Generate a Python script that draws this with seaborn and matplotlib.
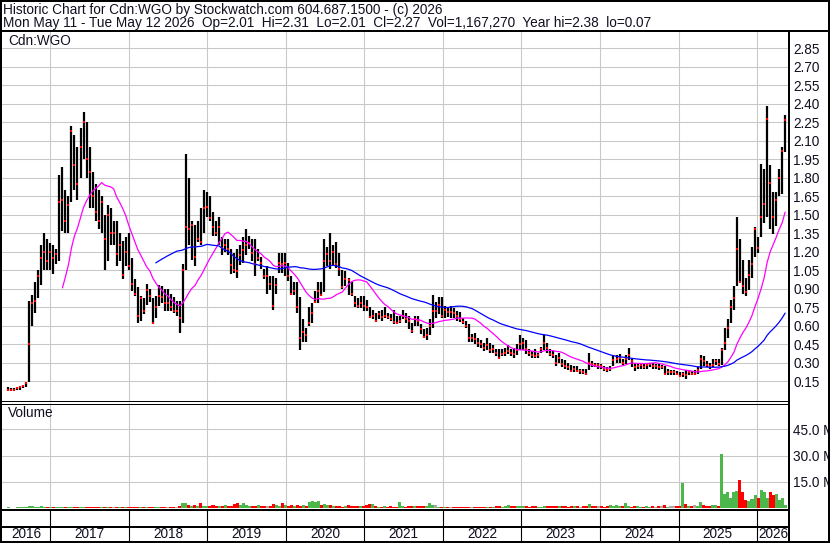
import numpy as np
import pandas as pd
import matplotlib
matplotlib.use("Agg")
import matplotlib.pyplot as plt
from matplotlib.lines import Line2D
import seaborn as sns

# ---------------- data (bi-weekly bars) ----------------
high = [
    .10, .09, .09, .10, .11, .12, .14, .80, .85, .95,
    1.05, 1.25, 1.35, 1.30, 1.27, 1.25, 1.22, 1.82, 1.89, 1.70,
    1.65, 2.22, 2.15, 2.05, 2.20, 2.33, 2.25, 2.05, 1.85, 1.75,
    1.70, 1.65, 1.50, 1.58, 1.55, 1.45, 1.45, 1.35, 1.29, 1.32,
    1.35, 1.15, .98, .91, .84, .82, .94, .90, .82, .84,
    .93, .92, .90, .90, .86, .83, .80, .80, 1.10, 1.99,
    1.80, 1.45, 1.42, 1.45, 1.55, 1.70, 1.68, 1.65, 1.52, 1.45,
    1.48, 1.32, 1.30, 1.30, 1.22, 1.19, 1.22, 1.25, 1.32, 1.38,
    1.33, 1.30, 1.30, 1.22, 1.16, 1.06, 1.08, 1.00, 1.00, .99,
    1.19, 1.19, 1.19, 1.11, 1.00, .95, .95, .83, .65, .58,
    .75, .78, .88, .95, .95, 1.30, 1.24, 1.35, 1.25, 1.28,
    1.19, 1.05, 1.04, .99, .95, .84, .82, .84, .84, .81,
    .75, .73, .70, .72, .73, .75, .70, .69, .73, .68,
    .68, .73, .70, .68, .62, .68, .68, .61, .57, .58,
    .65, .85, .79, .83, .83, .76, .75, .76, .74, .72,
    .71, .66, .64, .61, .53, .54, .50, .48, .46, .50,
    .46, .44, .41, .41, .41, .42, .44, .41, .42, .45,
    .52, .50, .48, .41, .39, .41, .38, .43, .52, .46,
    .41, .39, .36, .38, .33, .32, .30, .28, .27, .27,
    .25, .25, .25, .38, .31, .30, .30, .29, .27, .26,
    .27, .35, .36, .37, .33, .36, .42, .33, .30, .30,
    .30, .29, .30, .30, .30, .29, .29, .28, .27, .25,
    .24, .24, .23, .22, .22, .24, .24, .23, .24, .26,
    .36, .35, .31, .30, .33, .33, .33, .42, .58, .65,
    .81, .92, 1.48, 1.30, 1.13, .99, 1.13, 1.24, 1.40, 1.32,
    1.91, 1.87, 2.38, 1.90, 1.68, 1.68, 1.87, 2.05, 2.31,
]
low = [
    .07, .07, .07, .08, .08, .09, .10, .14, .60, .70,
    .82, .93, 1.05, 1.05, 1.05, 1.02, 1.10, 1.12, 1.37, 1.35,
    1.35, 1.60, 1.70, 1.62, 1.80, 1.95, 1.80, 1.55, 1.55, 1.45,
    1.38, 1.35, 1.05, 1.12, 1.25, 1.25, 1.08, 1.12, .98, 1.08,
    1.05, .88, .84, .62, .64, .69, .77, .79, .61, .66,
    .76, .78, .72, .72, .72, .70, .68, .54, .62, 1.05,
    1.25, 1.13, 1.08, 1.28, 1.25, 1.35, 1.48, 1.45, 1.33, 1.33,
    1.25, 1.17, 1.20, 1.17, 1.02, 1.03, .99, 1.09, 1.11, 1.17,
    1.22, 1.12, 1.00, 1.12, 1.06, .98, .86, .89, .73, .86,
    1.03, 1.03, 1.00, .96, .85, .85, .70, .40, .47, .47,
    .60, .62, .78, .78, .84, .87, 1.08, 1.06, 1.08, 1.07,
    1.00, .90, .92, .85, .84, .75, .74, .74, .72, .72,
    .66, .65, .63, .65, .64, .66, .65, .64, .61, .61,
    .62, .65, .62, .57, .54, .60, .60, .53, .50, .48,
    .52, .58, .66, .69, .66, .66, .67, .66, .66, .64,
    .63, .61, .58, .47, .47, .45, .43, .42, .39, .40,
    .38, .38, .35, .33, .35, .35, .37, .35, .34, .36,
    .40, .40, .37, .35, .34, .34, .34, .38, .40, .38,
    .35, .34, .27, .30, .26, .25, .24, .22, .22, .22,
    .21, .21, .20, .24, .26, .26, .25, .25, .23, .22,
    .23, .27, .30, .30, .28, .29, .32, .26, .23, .25,
    .25, .25, .25, .26, .25, .25, .24, .25, .21, .20,
    .20, .20, .20, .19, .18, .17, .20, .20, .20, .21,
    .25, .27, .26, .25, .26, .28, .27, .28, .40, .50,
    .62, .73, .92, .95, .86, .84, .89, .99, 1.16, 1.19,
    1.32, 1.43, 1.48, 1.38, 1.34, 1.41, 1.65, 1.67, 2.01,
]
close = [
    .08, .08, .08, .09, .10, .11, .13, .45, .78, .80,
    1.00, 1.15, 1.20, 1.12, 1.20, 1.15, 1.18, 1.60, 1.62, 1.45,
    1.58, 2.18, 1.90, 1.75, 2.05, 2.25, 1.95, 1.85, 1.65, 1.52,
    1.45, 1.60, 1.30, 1.50, 1.35, 1.35, 1.18, 1.25, 1.01, 1.20,
    1.08, .94, .86, .68, .82, .72, .89, .84, .62, .75,
    .84, .83, .78, .78, .75, .72, .72, .66, 1.05, 1.40,
    1.38, 1.42, 1.16, 1.30, 1.28, 1.55, 1.56, 1.47, 1.40, 1.35,
    1.40, 1.23, 1.25, 1.22, 1.09, 1.05, 1.04, 1.17, 1.21, 1.25,
    1.27, 1.19, 1.10, 1.15, 1.11, 1.00, 1.00, .94, .76, .93,
    1.11, 1.10, 1.11, 1.00, .86, .88, .75, .50, .55, .52,
    .62, .70, .79, .88, .85, 1.12, 1.18, 1.12, 1.20, 1.10,
    1.06, .91, .98, .97, .86, .78, .76, .78, .76, .75,
    .67, .68, .64, .69, .67, .68, .67, .65, .63, .62,
    .64, .68, .65, .64, .56, .65, .64, .57, .51, .52,
    .60, .72, .72, .77, .68, .73, .71, .71, .70, .68,
    .65, .63, .60, .50, .50, .49, .46, .45, .42, .44,
    .40, .41, .38, .34, .37, .38, .39, .38, .37, .40,
    .45, .46, .41, .38, .36, .35, .36, .41, .46, .42,
    .37, .36, .30, .34, .29, .27, .26, .23, .25, .23,
    .23, .22, .21, .30, .29, .28, .28, .27, .25, .24,
    .25, .32, .33, .34, .30, .33, .36, .31, .26, .27,
    .28, .26, .28, .29, .27, .27, .26, .26, .21, .22,
    .22, .22, .21, .19, .21, .20, .22, .21, .21, .24,
    .33, .31, .28, .27, .28, .31, .29, .40, .46, .58,
    .75, .82, 1.22, .95, .92, .87, 1.01, 1.10, 1.38, 1.23,
    1.48, 1.59, 2.28, 1.76, 1.48, 1.62, 1.80, 2.02, 2.27,
]
volume_m = [
    .3, .2, .2, .3, .4, .3, .5, 1.0, .9, .7,
    .8, .9, .7, .6, .5, .6, .5, .7, .8, .6,
    .5, .6, .7, .5, .6, .5, .7, .6, .5, .6,
    .5, .5, .6, .4, .5, .6, .5, .4, .5, .6,
    .5, .5, .6, .5, .7, .5, .4, .5, .6, .5,
    .6, .5, .4, .5, .6, .5, .7, .9, 3.0, 2.6,
    1.8, 1.2, 1.5, 1.0, 2.8, 1.3, 1.0, 1.2, 1.6, 1.0,
    1.4, 1.1, 1.7, 1.0, 1.3, 2.2, 2.6, 1.8, 2.8, 1.5,
    1.1, 1.4, 1.0, 1.5, 1.2, 1.0, 1.3, 1.1, 2.3, 1.6,
    1.2, 2.8, 1.5, 1.0, 1.5, 1.2, 2.0, 1.3, 1.6, 1.4,
    3.5, 4.0, 3.3, 3.8, 2.0, 2.3, 1.5, 1.8, 1.2, 1.0,
    1.4, .8, 1.2, 1.6, 1.0, 1.3, .9, 1.1, 1.4, 2.0,
    2.3, 2.5, 1.2, .8, .6, .9, .7, 1.0, .8, .6,
    3.2, 1.0, .8, 1.2, 1.0, .9, 1.4, 1.0, .9, 1.2,
    2.7, 1.5, 2.0, .7, .5, .6, .5, .7, .6, .5,
    .6, .6, .5, .7, .6, .5, .6, .7, .5, .6,
    .8, .7, .9, 1.0, .8, 1.2, 1.5, 1.0, .9, 1.3,
    1.4, .9, 1.0, .8, .9, 1.1, .7, .8, 1.3, 1.2,
    .9, 1.0, 1.2, .9, 1.1, 1.0, .8, 1.2, .9, 1.0,
    .8, .9, 1.1, 2.3, 1.3, 1.0, .9, 1.2, .8, .9,
    2.0, 1.2, 1.5, 1.0, .9, 2.9, 1.3, .8, 1.0, .9,
    .7, .8, .9, .7, 1.0, .8, .9, 1.4, 1.8, .8,
    1.2, 1.0, .9, 1.3, 14.5, 2.3, 1.2, 1.0, 1.5, 1.3,
    3.4, 1.5, 1.2, 1.3, 1.8, 1.6, 1.4, 31.0, 8.0, 9.0,
    6.0, 9.0, 10.0, 16.0, 9.0, 4.5, 4.0, 5.0, 7.5, 5.5,
    10.5, 9.0, 6.0, 9.0, 7.5, 8.0, 4.5, 5.5, 2.0,
]
years = [str(y) for y in range(2016, 2027)]
price_ticks = [round(0.15 * k, 2) for k in range(1, 20)]
volume_ticks = [15.0, 30.0, 45.0]
fast_period, slow_period = 15, 50
fast_first_bar = 18          # the chart begins its fast average here
header_1 = "Historic Chart for Cdn:WGO by Stockwatch.com 604.687.1500 - (c) 2026"
header_2 = ("Mon May 11 - Tue May 12 2026  Op=2.01  Hi=2.31  Lo=2.01  Cl=2.27  "
            "Vol=1,167,270  Year hi=2.38  lo=0.07")

# ---------------- frame ----------------
n = len(close)
dates = pd.date_range("2016-06-20", periods=n, freq="14D")
df = pd.DataFrame({"date": dates, "high": high[:n], "low": low[:n], "close": close,
                   "vol": volume_m[:n]})
df["ma_fast"] = df["close"].rolling(fast_period).mean()
df.loc[:fast_first_bar - 1, "ma_fast"] = np.nan
df["ma_slow"] = df["close"].rolling(slow_period).mean()
chg = df["close"].diff().fillna(1)
vol_colors = np.where(chg > 0, "#4cb84c", np.where(chg < 0, "#ff0000", "#a8a8a8"))

sns.set_theme(style="white")
plt.rcParams["font.family"] = ["Liberation Sans", "DejaVu Sans"]
TXT = "#101020"
FS = 9.8

W, H = 830, 543
fig = plt.figure(figsize=(W / 100, H / 100), dpi=100)
fig.patch.set_facecolor("white")


def rect(x0, y0, x1, y1):
    return [x0 / W, 1 - y1 / H, (x1 - x0) / W, (y1 - y0) / H]


def line_px(x0, y0, x1, y1, lw_px=1.0, color="black"):
    fig.add_artist(Line2D([x0 / W, x1 / W], [1 - y0 / H, 1 - y1 / H],
                          transform=fig.transFigure, lw=lw_px * 0.72,
                          color=color, solid_capstyle="butt", zorder=20))


xlim = (pd.Timestamp("2016-05-22"), pd.Timestamp("2026-05-29"))
year_starts = [pd.Timestamp(f"{y}-01-01") for y in range(2017, 2027)]
GRID = "#c8c8c8"

# ---------------- price panel ----------------
axp = fig.add_axes(rect(2, 32, 789, 401))
axp.set_xlim(xlim)
axp.set_ylim(-0.012, 2.982)
for v in price_ticks:
    axp.axhline(v, color=GRID, lw=0.75, zorder=0)
for d in year_starts:
    axp.axvline(d, color=GRID, lw=0.75, zorder=0)
axp.vlines(df["date"], df["low"], df["high"], color="black", lw=1.6, zorder=2)
sns.scatterplot(data=df, x="date", y="close", ax=axp, marker="s", s=3.5,
                color="#ff0000", linewidth=0, zorder=3, legend=False)
sns.lineplot(data=df, x="date", y="ma_fast", ax=axp, color="#ff00ff", lw=0.9,
             zorder=4, legend=False)
sns.lineplot(data=df, x="date", y="ma_slow", ax=axp, color="#0000ff", lw=0.9,
             zorder=4, legend=False)
axp.yaxis.tick_right()
axp.set_yticks(price_ticks)
axp.set_yticklabels([f"{v:.2f}" for v in price_ticks], fontsize=FS, color=TXT)
axp.tick_params(axis="y", length=0, pad=3)
axp.set_xticks([])
axp.set_xlabel("")
axp.set_ylabel("")
for s in axp.spines.values():
    s.set_visible(False)
axp.text(6 / 787, 1 - 9 / 369, "Cdn:WGO", transform=axp.transAxes, fontsize=FS,
         color=TXT, va="center", ha="left")

# ---------------- volume panel ----------------
axv = fig.add_axes(rect(2, 403, 789, 508))
axv.set_xlim(xlim)
axv.set_ylim(0, 60)
for v in volume_ticks:
    axv.axhline(v, color=GRID, lw=0.75, zorder=0)
for d in year_starts:
    axv.axvline(d, color=GRID, lw=0.75, zorder=0)
axv.bar(df["date"], df["vol"], width=14, color=vol_colors, linewidth=0, zorder=2)
axv.yaxis.tick_right()
axv.set_yticks(volume_ticks)
axv.set_yticklabels([f"{v:.1f} M" for v in volume_ticks], fontsize=FS, color=TXT)
axv.tick_params(axis="y", length=0, pad=3)
axv.set_xticks([])
for s in axv.spines.values():
    s.set_visible(False)
axv.text(6 / 787, 1 - 10 / 105, "Volume", transform=axv.transAxes, fontsize=FS,
         color=TXT, va="center", ha="left")

# ---------------- date rows ----------------
axd = fig.add_axes(rect(2, 510, 789, 541))
axd.set_xlim(xlim)
axd.set_ylim(541, 510)
axd.axis("off")
bounds = [xlim[0]] + year_starts + [xlim[1]]
for d in year_starts:
    axd.plot([d, d], [510, 541], color="black", lw=0.8)
for i, lab in enumerate(years):
    mid = bounds[i] + (bounds[i + 1] - bounds[i]) / 2
    axd.text(mid, 534, lab, fontsize=FS, color=TXT, ha="center", va="center")

# ---------------- header and borders ----------------
fig.text(3 / W, 1 - 10 / H, header_1, fontsize=FS, color=TXT, va="center", ha="left")
fig.text(3 / W, 1 - 23.5 / H, header_2, fontsize=FS, color=TXT, va="center", ha="left")

line_px(0, 31, 830, 31, 2)            # header separator
line_px(789, 31, 789, 543, 2)         # right edge of plot area
line_px(0, 401, 789, 401, 1)          # double line between panels
line_px(0, 403.5, 789, 403.5, 1)
line_px(0, 509.5, 789, 509.5, 2)      # bottom of volume panel
line_px(0, 527, 789, 527, 2)          # date row separator
# outer frame
line_px(1, 0, 1, 543, 2)
line_px(829, 0, 829, 543, 2)
line_px(0, 1, 830, 1, 2)
line_px(0, 541.5, 830, 541.5, 3)

fig.savefig("out.png", dpi=100, facecolor="white")
